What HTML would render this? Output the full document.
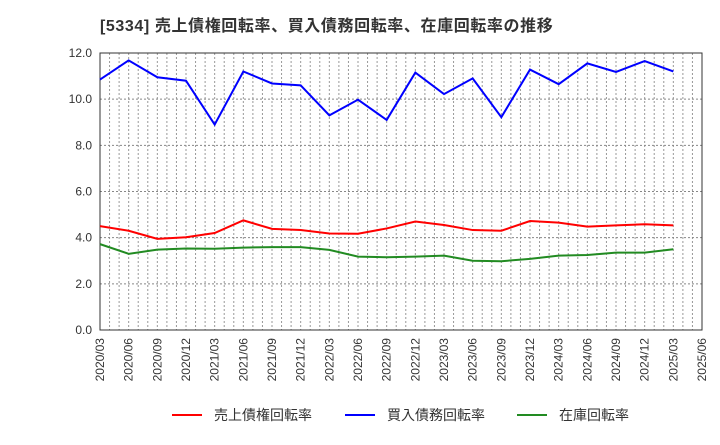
<!DOCTYPE html>
<html><head><meta charset="utf-8"><style>
body{margin:0;background:#fff;}
svg text{font-family:"Liberation Sans","Noto Sans CJK JP",sans-serif;}
</style></head><body>
<svg id="chart" width="720" height="440" xmlns="http://www.w3.org/2000/svg">
<text x="100" y="31" font-size="16" font-weight="bold" fill="#333" letter-spacing="0.6">[5334]  売上債権回転率、買入債務回転率、在庫回転率の推移</text>
<g id="grid"></g><g id="axes"></g><g id="series"></g><g id="legend"></g>
</svg>
<script>
const categories=["2020/03","2020/06","2020/09","2020/12","2021/03","2021/06","2021/09","2021/12","2022/03","2022/06","2022/09","2022/12","2023/03","2023/06","2023/09","2023/12","2024/03","2024/06","2024/09","2024/12","2025/03"];
const tickLabels=["2020/03","2020/06","2020/09","2020/12","2021/03","2021/06","2021/09","2021/12","2022/03","2022/06","2022/09","2022/12","2023/03","2023/06","2023/09","2023/12","2024/03","2024/06","2024/09","2024/12","2025/03","2025/06"];
const yTicks=[0,2,4,6,8,10,12];
const receivables=[4.5,4.3,3.95,4.02,4.2,4.75,4.38,4.33,4.18,4.17,4.4,4.7,4.55,4.33,4.3,4.72,4.65,4.48,4.53,4.58,4.53];
const payables=[10.85,11.68,10.95,10.8,8.9,11.2,10.68,10.6,9.3,9.98,9.1,11.15,10.22,10.9,9.22,11.28,10.65,11.55,11.18,11.65,11.2];
const inventory=[3.72,3.3,3.48,3.53,3.52,3.57,3.59,3.59,3.47,3.18,3.15,3.18,3.22,3.0,2.98,3.08,3.22,3.25,3.35,3.35,3.5];
const L=100,R=702,T=53,B=330,NS="http://www.w3.org/2000/svg";
const monthW=(R-L)/63;
const xAt=i=>L+i*3*monthW;
const yAt=v=>B-(v/12)*(B-T);
function mk(tag,attrs,parent){const e=document.createElementNS(NS,tag);for(const k in attrs)e.setAttribute(k,attrs[k]);parent.appendChild(e);return e;}
const grid=document.getElementById('grid'),axes=document.getElementById('axes'),ser=document.getElementById('series'),leg=document.getElementById('legend');
for(let m=1;m<63;m++){const l=mk('line',{x1:L+m*monthW,x2:L+m*monthW,y1:T,y2:B,stroke:'#999','stroke-width':1,'stroke-dasharray':'2,2'},grid);

}
yTicks.forEach(v=>{const l=mk('line',{x1:L,x2:R,y1:yAt(v),y2:yAt(v),stroke:'#888','stroke-width':1,'stroke-dasharray':'2,2'},grid);


const t=mk('text',{x:L-8,y:yAt(v)+4,'text-anchor':'end','font-size':12,fill:'#333'},axes);t.textContent=v.toFixed(1);

});
const fr=mk('rect',{x:L,y:T,width:R-L,height:B-T,fill:'none',stroke:'#333','stroke-width':1},axes);


tickLabels.forEach((s,i)=>{const x=xAt(i);const t=mk('text',{x:x+4,y:B+8,'text-anchor':'end','font-size':12,fill:'#333',transform:`rotate(-90 ${x+4} ${B+8})`},axes);t.textContent=s;

});
function line(vals,color,name){const p=mk('polyline',{points:vals.map((v,i)=>xAt(i)+','+yAt(v)).join(' '),fill:'none',stroke:color,'stroke-width':2},ser);

}
line(receivables,'#ff0000','receivables-turnover-line');
line(payables,'#0000ff','payables-turnover-line');
line(inventory,'#228b22','inventory-turnover-line');
const items=[["売上債権回転率","#ff0000",172],["買入債務回転率","#0000ff",345],["在庫回転率","#228b22",517]];
items.forEach(([s,c,x])=>{const g=mk('g',{},leg);


mk('line',{x1:x,x2:x+30,y1:415,y2:415,stroke:c,'stroke-width':2},g);
const t=mk('text',{x:x+42,y:420,'font-size':14,fill:'#333'},g);t.textContent=s;});
</script>
</body></html>
